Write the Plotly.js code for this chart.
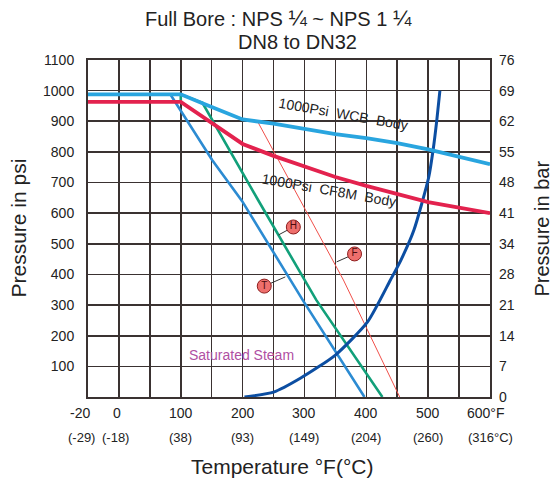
<!DOCTYPE html>
<html>
<head>
<meta charset="utf-8">
<script src="https://cdn.plot.ly/plotly-3.0.1.min.js"></script>
<style>html,body{margin:0;padding:0;background:#fff}#chart{width:553px;height:482px}</style>
</head>
<body>
<div id="chart"></div>
<script>
// ---- data (°F / psi) ----
const wcbT = [-50, 100, 136, 200, 250, 300, 350, 400, 450, 500, 600];
const wcbP = [988, 988, 958, 906, 892, 875, 858, 845, 829, 808, 760];

const cf8mT = [-50, 100, 150, 200, 250, 300, 350, 400, 450, 500, 600];
const cf8mP = [963, 963, 895, 826, 787, 751, 718, 689, 663, 636, 600];

const lineTT = [83, 151, 199, 297, 397];
const lineTP = [988, 773, 640, 317, 0];

const lineHT = [100, 100, 135, 225, 319, 426];
const lineHP = [963, 988, 960, 643, 317, 0];

const lineFT = [224, 293, 363, 454];
const lineFP = [900, 643, 382, 0];

const steamT = [203, 250, 294, 350, 402, 439, 456, 477, 501, 508, 514, 519];
const steamP = [0, 16, 62, 137, 245, 382, 447, 545, 718, 806, 904, 1000];

const labelLetters = ['H', 'F', 'T'];
const labelT = [282, 381, 235];
const labelP = [555, 467, 362];
const leaderT = [258, 352, 269];
const leaderP = [529, 441, 392];

const psiTicks = [100, 200, 300, 400, 500, 600, 700, 800, 900, 1000, 1100];
const barTickPos = [0, 100, 200, 300, 400, 500, 600, 700, 800, 900, 1000, 1100];
const barTickText = ['0', '7', '14', '21', '28', '34', '41', '48', '55', '62', '69', '76'];

const fLabels = ['-20', '0', '100', '200', '300', '400', '500', '600°F'];
const cLabels = ['(-29)', '(-18)', '(38)', '(93)', '(149)', '(204)', '(260)', '(316°C)'];
const labelPosF = [-63, -3, 100, 200, 300, 400, 500, 600];
const labelPosC = [-60, -6, 100, 200, 300, 400, 500, 600];

const X_RANGE = [-50, 600];
const FONT = 'Arial, "Liberation Sans", Helvetica, sans-serif';
const GRID = '#3a3231';

function toPaperX(v) { return (v - X_RANGE[0]) / (X_RANGE[1] - X_RANGE[0]); }

const traces = [
  {x: lineHT, y: lineHP, mode: 'lines', line: {color: '#12A07A', width: 2.6}, hoverinfo: 'skip'},
  {x: lineFT, y: lineFP, mode: 'lines', line: {color: '#F0504A', width: 1}, hoverinfo: 'skip'},
  {x: lineTT, y: lineTP, mode: 'lines', line: {color: '#2C8BD2', width: 2.6}, hoverinfo: 'skip'},
  {x: steamT, y: steamP, mode: 'lines', line: {color: '#0C4EA2', width: 3, shape: 'spline', smoothing: 0.6}, hoverinfo: 'skip'},
  {x: cf8mT, y: cf8mP, mode: 'lines', line: {color: '#E3224E', width: 3.8}, hoverinfo: 'skip'},
  {x: wcbT, y: wcbP, mode: 'lines', line: {color: '#29A5DF', width: 3.8}, hoverinfo: 'skip'}
];

for (let i = 0; i < labelLetters.length; i++) {
  traces.push({x: [leaderT[i], labelT[i]], y: [leaderP[i], labelP[i]], mode: 'lines',
    line: {color: '#333', width: 1}, hoverinfo: 'skip'});
}
traces.push({
  x: labelT, y: labelP, mode: 'markers+text', text: labelLetters, textposition: 'middle center',
  textfont: {family: FONT, size: 10, color: '#4a0c0c'},
  marker: {size: 14, color: '#EE6F6C', line: {color: '#8E1D1D', width: 1}}, hoverinfo: 'skip'
});
traces.push({x: [0], y: [0], yaxis: 'y2', mode: 'markers', marker: {opacity: 0}, hoverinfo: 'skip'});

const annotations = [];
for (let i = 0; i < fLabels.length; i++) {
  annotations.push({x: toPaperX(labelPosF[i]), y: -0.048, xref: 'paper', yref: 'paper', text: fLabels[i],
    showarrow: false, xanchor: 'center', yanchor: 'middle', font: {family: FONT, size: 14, color: '#222'},
    xshift: i === fLabels.length - 1 ? -4 : 0});
  annotations.push({x: toPaperX(labelPosC[i]), y: -0.119, xref: 'paper', yref: 'paper', text: cLabels[i],
    showarrow: false, xanchor: 'center', yanchor: 'middle', font: {family: FONT, size: 13, color: '#222'}});
}
annotations.push(
  {x: 0.475, y: 1.122, xref: 'paper', yref: 'paper',
   text: 'Full Bore : NPS <span style="font-size:22px">¼</span> ~ NPS 1 <span style="font-size:22px">¼</span>',
   showarrow: false, font: {family: FONT, size: 20, color: '#222'}, xanchor: 'center', yanchor: 'middle'},
  {x: 0.52, y: 1.053, xref: 'paper', yref: 'paper', text: 'DN8 to DN32', showarrow: false,
   font: {family: FONT, size: 20, color: '#222'}, xanchor: 'center', yanchor: 'middle'},
  {x: -0.174, y: 0.5, xref: 'paper', yref: 'paper', text: 'Pressure in psi', textangle: -90, showarrow: false,
   font: {family: FONT, size: 21, color: '#222'}, xanchor: 'center', yanchor: 'middle'},
  {x: 1.127, y: 0.5, xref: 'paper', yref: 'paper', text: 'Pressure in bar', textangle: -90, showarrow: false,
   font: {family: FONT, size: 20, color: '#222'}, xanchor: 'center', yanchor: 'middle'},
  {x: 0.483, y: -0.205, xref: 'paper', yref: 'paper', text: 'Temperature °F(°C)', showarrow: false,
   font: {family: FONT, size: 21, color: '#222'}, xanchor: 'center', yanchor: 'middle'},
  {x: 363, y: 924, xref: 'x', yref: 'y', text: '1000Psi  WCB  Body', textangle: 10, showarrow: false,
   font: {family: FONT, size: 14, color: '#222'}},
  {x: 339, y: 676, xref: 'x', yref: 'y', text: '1000Psi  CF8M  Body', textangle: 10, showarrow: false,
   font: {family: FONT, size: 14, color: '#222'}},
  {x: 198, y: 137, xref: 'x', yref: 'y', text: 'Saturated Steam', showarrow: false,
   font: {family: FONT, size: 14, color: '#B04FA3'}}
);

const layout = {
  width: 553, height: 482,
  margin: {l: 88, r: 63, t: 60, b: 85},
  paper_bgcolor: '#fff', plot_bgcolor: '#fff',
  showlegend: false,
  xaxis: {range: X_RANGE, tick0: 0, dtick: 50, showticklabels: false, showgrid: true,
    gridcolor: GRID, gridwidth: 1.6, zeroline: false, showline: true, linecolor: GRID, linewidth: 2, mirror: true,
    fixedrange: true},
  yaxis: {range: [0, 1100], tickvals: psiTicks, showgrid: true, gridcolor: GRID, gridwidth: 1.6,
    zeroline: false, showline: true, linecolor: GRID, linewidth: 2, mirror: true,
    tickfont: {family: FONT, size: 14, color: '#222'}, ticklabelstandoff: 9, fixedrange: true},
  yaxis2: {range: [0, 1100], overlaying: 'y', side: 'right', tickvals: barTickPos, ticktext: barTickText,
    showgrid: false, zeroline: false, showline: false,
    tickfont: {family: FONT, size: 14, color: '#222'}, ticklabelstandoff: 8, fixedrange: true},
  annotations: annotations
};

Plotly.newPlot('chart', traces, layout, {staticPlot: true, displayModeBar: false});
</script>
</body>
</html>
